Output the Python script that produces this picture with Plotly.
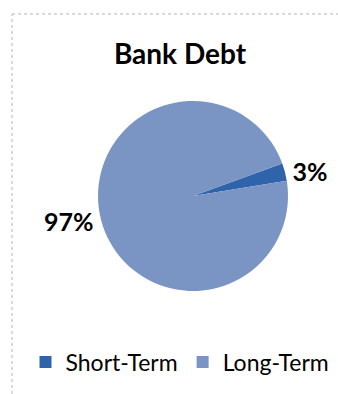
import plotly.graph_objects as go

categories = ["Short-Term", "Long-Term"]
shares = [3, 97]
colors = ["#2f64ab", "#7a94c4"]

W, H = 338, 394
FONT = "Lato"

fig = go.Figure(go.Pie(
    labels=categories,
    values=shares,
    sort=False,
    direction="clockwise",
    rotation=70,
    marker=dict(colors=colors, line=dict(width=0)),
    texttemplate="%{percent:.0%}",
    textposition="outside",
    textfont=dict(family=FONT, size=25, color="#000000", weight="bold"),
    automargin=False,
    domain=dict(x=[98 / W, 288 / W], y=[1 - 291 / H, 1 - 101 / H]),
    hoverinfo="label+percent",
    showlegend=True,
))

fig.update_layout(
    width=W, height=H,
    margin=dict(l=0, r=0, t=0, b=0),
    paper_bgcolor="white",
    plot_bgcolor="white",
    title=dict(text="<b>Bank Debt</b>", x=180 / W, xanchor="center",
               y=1 - 54 / H, yanchor="middle", yref="paper",
               font=dict(family=FONT, size=28, color="#000000")),
    legend=dict(orientation="h", x=180 / W, xanchor="center",
                y=1 - 362 / H, yanchor="middle",
                font=dict(family=FONT, size=23, color="#000000"),
                itemwidth=30, traceorder="normal"),
    shapes=[
        dict(type="line", xref="paper", yref="paper", x0=12 / W, x1=1, y0=1 - 14 / H, y1=1 - 14 / H,
             line=dict(color="#b5b5b5", width=1, dash="dot")),
        dict(type="line", xref="paper", yref="paper", x0=12 / W, x1=12 / W, y0=0, y1=1 - 14 / H,
             line=dict(color="#b5b5b5", width=1, dash="dot")),
    ],
)

fig.write_html("out.html")
